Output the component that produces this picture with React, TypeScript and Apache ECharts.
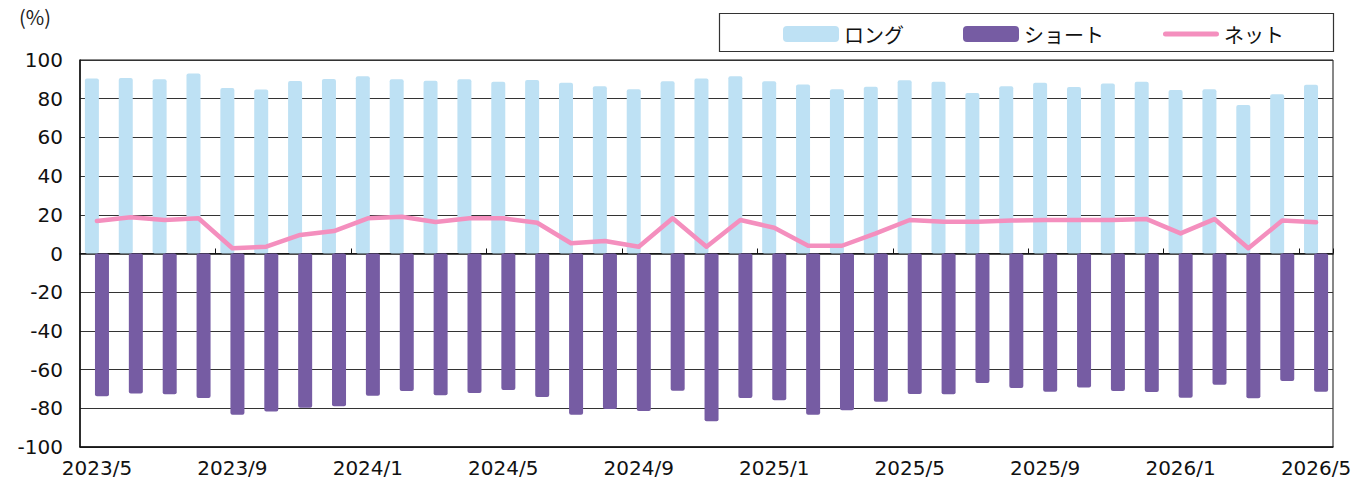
import React, { useEffect, useRef } from "react";
import * as echarts from "echarts";

const categories: string[] = [
  "2023/5", "2023/6", "2023/7", "2023/8", "2023/9", "2023/10", "2023/11", "2023/12",
  "2024/1", "2024/2", "2024/3", "2024/4", "2024/5", "2024/6", "2024/7", "2024/8",
  "2024/9", "2024/10", "2024/11", "2024/12", "2025/1", "2025/2", "2025/3", "2025/4",
  "2025/5", "2025/6", "2025/7", "2025/8", "2025/9", "2025/10", "2025/11", "2025/12",
  "2026/1", "2026/2", "2026/3", "2026/4", "2026/5",
];

const longValues: number[] = [
  90.5, 90.7, 90.0, 93.0, 85.5, 84.8, 89.2, 90.2, 91.6, 90.0, 89.3,
  90.0, 88.8, 89.7, 88.3, 86.4, 84.9, 89.0, 90.5, 91.6, 89.0, 87.4, 84.9, 86.2,
  89.5, 88.8, 82.9, 86.4, 88.3, 86.0, 87.9, 88.8, 84.5, 84.9, 76.7, 82.3, 87.2,
];

const shortValues: number[] = [
  -73.8, -72.3, -72.8, -74.7, -83.3, -81.7, -79.7, -79.0, -73.5, -71.1, -73.3,
  -72.1, -70.5, -74.2, -83.3, -80.4, -81.4, -70.9, -86.7, -74.7, -75.9, -83.3, -81.0, -76.6,
  -72.6, -72.8, -66.9, -69.5, -71.4, -69.3, -71.1, -71.6, -74.5, -67.8, -74.8, -65.9, -71.4,
];

const netValues: number[] = [
  16.8, 18.7, 17.3, 18.2, 2.7, 3.5, 9.6, 11.6, 18.2, 19.0, 16.3,
  18.2, 18.2, 15.9, 5.3, 6.5, 3.5, 18.2, 3.5, 17.3, 13.3, 4.0, 4.0, 10.4,
  17.3, 16.4, 16.4, 17.0, 17.3, 17.3, 17.3, 17.8, 10.4, 17.8, 2.7, 17.0, 16.1,
];

const seriesNames = ["ロング", "ショート", "ネット"];
const unitLabel = "(%)";

const NUM_FONT = "DejaVu Sans";
const JP_FONT = "'Noto Sans CJK JP', 'Noto Sans', sans-serif";

export default function App() {
  const ref = useRef<HTMLDivElement>(null);

  useEffect(() => {
    document.body.style.margin = "0";
    const chart = echarts.init(ref.current!, null, { renderer: "svg" });
    chart.setOption({
      animation: false,
      backgroundColor: "#ffffff",
      grid: {
        left: 80,
        right: 33,
        top: 60,
        bottom: 36,
        show: true,
        borderColor: "#111",
        borderWidth: 1,
        backgroundColor: "transparent",
      },
      graphic: [
        {
          type: "rect",
          z: 1,
          shape: { x: 719.5, y: 13.5, width: 614, height: 38 },
          style: { fill: "#fff", stroke: "#333", lineWidth: 1.2 },
        },
        {
          type: "text",
          left: 19,
          top: 6,
          style: { text: unitLabel, fontSize: 20, fontFamily: JP_FONT, fill: "#222" },
        },
      ],
      legend: {
        left: 783,
        top: 24,
        padding: 0,
        z: 10,
        itemWidth: 56,
        itemHeight: 16,
        itemGap: 59,
        textStyle: { fontSize: 20, fontFamily: JP_FONT, color: "#111" },
        data: [
          { name: seriesNames[0], icon: "roundRect" },
          { name: seriesNames[1], icon: "roundRect" },
          {
            name: seriesNames[2],
            icon: "path://M2.5,0 L53.5,0 A2.5,2.5 0 0 1 53.5,5 L2.5,5 A2.5,2.5 0 0 1 2.5,0 Z",
          },
        ],
      },
      xAxis: [
        {
          type: "category",
          data: categories,
          position: "bottom",
          boundaryGap: true,
          axisLine: { show: true, onZero: false, lineStyle: { color: "#111", width: 1.5 } },
          axisTick: { show: false },
          axisLabel: {
            interval: 3,
            fontSize: 20,
            fontFamily: NUM_FONT,
            color: "#111",
            margin: 11,
          },
          splitLine: { show: false },
        },
        {
          type: "category",
          data: categories,
          position: "top",
          boundaryGap: true,
          axisLine: { show: true, onZero: true, lineStyle: { color: "#111", width: 1.5 } },
          axisTick: {
            show: true,
            inside: false,
            length: 5,
            interval: (i: number) => i % 4 === 0 && i > 0,
            lineStyle: { color: "#111", width: 1 },
          },
          axisLabel: { show: false },
          splitLine: { show: false },
        },
      ],
      yAxis: {
        type: "value",
        min: -100,
        max: 100,
        interval: 20,
        axisLine: { show: true, lineStyle: { color: "#111", width: 1.5 } },
        axisTick: { show: false },
        axisLabel: { fontSize: 20, fontFamily: NUM_FONT, color: "#111", margin: 17 },
        splitLine: { show: true, lineStyle: { color: "#333", width: 1 } },
      },
      series: [
        {
          name: seriesNames[0],
          type: "bar",
          data: longValues,
          barWidth: 14,
          barGap: "-28%",
          itemStyle: { color: "#BEE1F4", borderRadius: 2 },
          z: 2,
        },
        {
          name: seriesNames[1],
          type: "bar",
          data: shortValues,
          barWidth: 14,
          barGap: "-28%",
          itemStyle: { color: "#765CA3", borderRadius: 2 },
          z: 3,
        },
        {
          name: seriesNames[2],
          type: "line",
          data: netValues,
          symbol: "none",
          showSymbol: false,
          lineStyle: { color: "#F48FBE", width: 4.5, cap: "round", join: "round" },
          itemStyle: { color: "#F48FBE" },
          z: 5,
        },
      ],
    });
    return () => chart.dispose();
  }, []);

  return (
    <div
      ref={ref}
      style={{ position: "absolute", left: 0, top: 0, width: 1366, height: 483 }}
    />
  );
}
